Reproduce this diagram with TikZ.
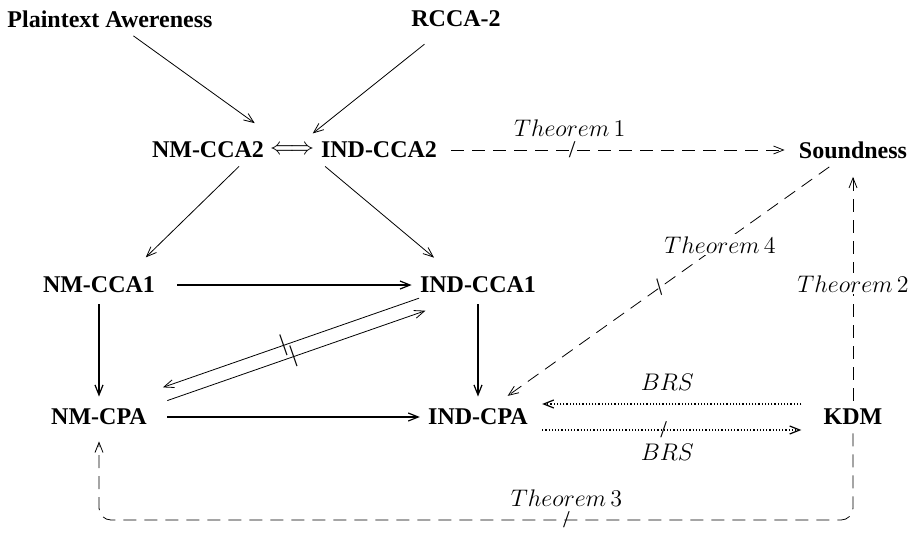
\documentclass[tikz,border=0pt]{standalone}
\usepackage{fontspec}
\setmainfont{Liberation Serif}
\usetikzlibrary{arrows.meta,calc}
\tikzset{
	prop/.style={font=\fontsize{12}{14}\selectfont\bfseries,inner sep=4pt},
	lbl/.style={font=\fontsize{12}{14}\selectfont,inner sep=1pt},
	solidarr/.style={semithick},
	thm/.style={dash pattern=on 6.5pt off 4pt},
	brs/.style={densely dotted,line width=0.6pt},
	notmark/.style={sloped,inner sep=0pt,font=\fontsize{12}{14}\selectfont,-}
}

\begin{document}
\begin{tikzpicture}[x=0.5pt,y=-0.5pt,->,>={Straight Barb[length=5pt,width=4pt]}]
	\useasboundingbox (0,0) rectangle (919,557);
	\node[prop] (pa) at (110,19) {Plaintext Awereness};
	\node[prop] (rcca) at (456,19) {RCCA-2};
	\node[prop] (nmcca2) at (208,150) {NM-CCA2};
	\node[prop] (iff) at (292,150) {$\Longleftrightarrow$};
	\node[prop] (indcca2) at (379,150) {IND-CCA2};
	\node[prop] (sound) at (853,150) {Soundness};
	\node[prop] (nmcca1) at (99,285) {NM-CCA1};
	\node[prop] (indcca1) at (478,285) {IND-CCA1};
	\node[prop] (nmcpa) at (99,417) {NM-CPA};
	\node[prop] (indcpa) at (478,417) {IND-CPA};
	\node[prop] (kdm) at (853,417) {KDM};
	\coordinate (loopr) at (853,520);
	\coordinate (loopl) at (99,520);
	\path
		(pa)	edge[shorten >=12pt]	(iff)
		(rcca)	edge[shorten <=7pt,shorten >=3pt]	(iff)
		(nmcca2.-28)	edge[shorten >=8pt]	(nmcca1.25)
		(indcca2.197)	edge[shorten >=8.5pt]	(indcca1.152)
		(nmcca1)	edge[solidarr,shorten <=7pt]	(indcca1)
		(nmcpa)	edge[solidarr,shorten <=6pt]	(indcpa)
		(nmcca1)	edge[solidarr,shorten <=1.5pt,shorten >=2pt]	(nmcpa)
		(indcca1)	edge[solidarr,shorten <=1.5pt,shorten >=2pt]	(indcpa)
		(indcca2)	edge[thm,shorten <=3pt,shorten >=3pt]	node[lbl,above=5.5pt,pos=0.36]{$Theorem\,1$}	node[notmark,pos=0.367]{/}	(sound)
		(kdm)	edge[thm,shorten >=5pt]	node[lbl,fill=white]{$Theorem\,2$}	(sound)
		(sound)	edge[thm,shorten >=4pt]	node[lbl,fill=white,pos=0.333]{$Theorem\,4$}	node[notmark,pos=0.517]{/}	(indcpa)
		([yshift=6.5pt]kdm.west)	edge[brs,shorten <=7pt,shorten >=3pt]	node[lbl,above=5.5pt,pos=0.53]{$BRS$}	([yshift=6.5pt]indcpa.east)
		([yshift=-6.5pt]indcpa.east)	edge[brs,shorten <=3pt,shorten >=7pt]	node[lbl,below=5.5pt,pos=0.47]{$BRS$}	node[notmark,pos=0.457]{/}	([yshift=-6.5pt]kdm.west);
	% two ways between IND-CCA1 and NM-CPA, both crossed out
	\draw[transform canvas={xshift=-1.1pt,yshift=3.3pt},shorten <=5pt,shorten >=10pt] (indcca1) -- node[notmark,pos=0.51]{|} (nmcpa);
	\draw[transform canvas={xshift=1.1pt,yshift=-3.3pt},shorten <=10pt,shorten >=4pt] (nmcpa) -- node[notmark,pos=0.51]{|} (indcca1);
	% the long way round from KDM back to NM-CPA
	\draw[thm,rounded corners=6pt,shorten >=4pt] (kdm) -- (loopr) -- node[lbl,above=5.5pt,pos=0.38]{$Theorem\,3$} node[notmark,pos=0.38]{/} (loopl) -- (nmcpa);
\end{tikzpicture}
\end{document}
